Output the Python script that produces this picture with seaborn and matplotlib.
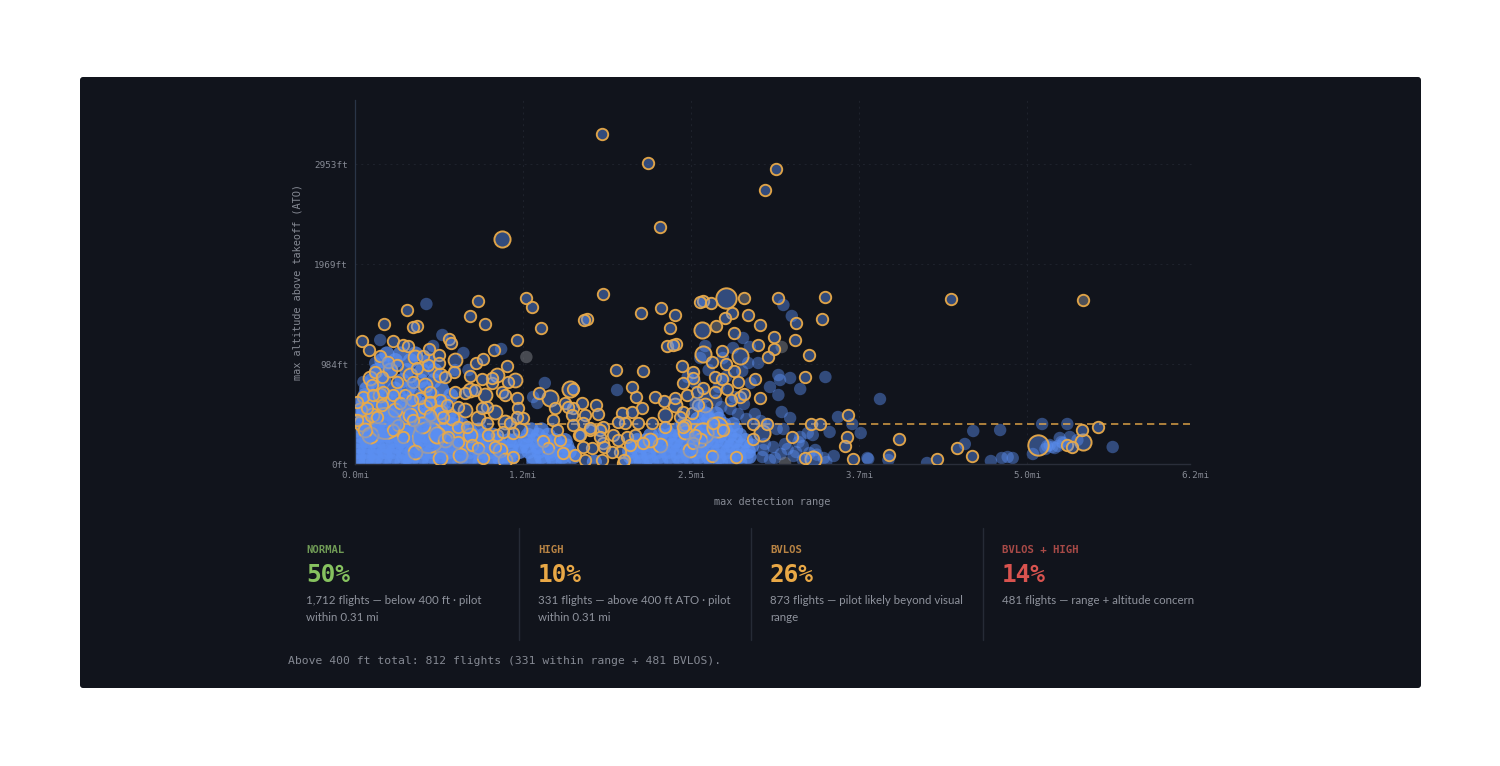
import matplotlib
matplotlib.use("Agg")
import matplotlib.pyplot as plt
import matplotlib.patches as mpatches
from matplotlib.lines import Line2D
from matplotlib.transforms import IdentityTransform
import seaborn as sns

# Values: detection range in km, altitude in metres (axis labels show mi / ft)
RING_S_KM = [2.94,3.49,5.01,4.88,3.63,2.95,2.04,1.46,0.62,2.11,1.37,1.55,0.35,0.74,0.69,2.21,2.76,2.73,3.40,3.64,
 3.81,3.75,3.71,3.82,3.79,4.14,4.24,4.11,4.49,4.40,4.68,4.82,4.51,5.04,5.60,5.56,5.25,4.99,5.24,4.80,
 4.99,4.92,4.37,4.25,4.42,4.51,3.89,4.02,4.02,5.40,5.36,4.76,4.82,4.58,4.63,4.56,4.29,4.37,3.90,4.14,
 4.29,4.43,4.48,3.95,4.07,3.81,3.57,3.68,3.43,3.11,3.30,3.35,2.60,2.70,2.87,2.89,2.74,2.71,2.60,3.18,
 3.42,3.30,3.90,4.01,4.08,3.87,3.93,3.69,3.54,3.37,3.21,3.13,2.95,2.92,2.67,2.80,3.07,3.13,3.24,3.33,
 3.43,3.15,2.82,2.95,2.92,2.62,2.74,2.94,3.19,4.05,3.90,4.02,4.38,4.26,4.25,4.54,4.74,4.74,4.90,5.43,
 5.54,5.87,5.86,5.83,5.20,5.36,5.93,7.10,8.85,8.65,8.48,8.54,6.48,6.36,6.93,7.17,7.35,2.19,2.50,2.54,
 2.38,2.58,2.36,2.60,2.80,2.68,2.24,2.30,2.44,2.40,2.48,2.71,2.96,3.06,3.20,3.27,
 0.08,0.17,0.45,0.57,0.63,0.30,0.39,0.50,0.81,0.88,1.00,1.00,0.87,0.74,1.12,1.14,1.18,1.07,1.37,1.44,
 1.52,1.65,1.93,1.81,1.82,1.63,1.63,1.51,0.24,0.32,0.50,0.69,0.20,0.33,0.10,0.02,0.21,0.45,0.60,0.89,
 0.77,1.01,1.19,1.31,1.43,1.75,1.79,1.93,1.94,1.57,1.51,1.23,1.10,0.89,0.68,0.54,0.32,0.14,0.69,0.51,
 0.57,1.23,1.33,1.57,1.85,2.00,1.88,1.93,1.69,1.58,1.76,1.23,1.39,1.67,1.88,1.52,1.46,1.11,1.05,0.89,
 0.26,0.02,0.45]
RING_S_M = [990,903,885,822,711,510,498,489,462,471,444,420,420,414,411,408,435,432,453,468,
 447,408,354,360,357,489,483,486,453,438,447,417,393,498,501,435,423,381,372,357,
 345,321,339,306,300,279,294,276,258,327,261,255,198,201,210,246,261,255,243,228,
 216,225,192,207,216,198,201,189,279,282,231,201,225,183,177,150,147,123,168,153,
 168,156,156,153,177,141,117,111,123,123,123,126,111,102,87,102,87,72,81,87,
 63,36,48,63,81,27,12,12,3,87,111,63,102,123,24,21,75,120,120,120,
 120,147,81,54,81,18,15,495,111,102,57,51,75,27,15,48,24,213,183,171,
 168,147,132,117,108,87,69,48,72,102,33,51,51,36,12,57,
 369,342,369,357,354,324,306,297,324,345,327,303,297,288,375,363,276,261,264,303,
 315,342,372,294,246,243,258,255,276,261,246,246,237,216,201,186,207,207,207,216,
 198,192,216,213,222,216,207,198,168,171,168,171,177,186,192,183,177,168,132,117,
 81,111,111,123,123,138,93,141,87,87,96,66,57,51,21,18,48,81,141,147,
 141,132,102]

RING_D_KM = [.12,.20,.48,.65,.83,1.01,1.15,1.31,1.46,1.67,1.79,1.96,1.37,1.07,1.25,1.73,1.79,.71,1.01,.30,.65,.83,.42,.18,.06,1.19,1.37,1.55,1.69,1.90,1.01,.71,
 3.93,4.11,3.63,3.51,3.99,3.69,3.81,4.17]
RING_D_M = [102,147,162,147,171,156,138,162,138,156,126,102,87,72,27,42,12,36,18,207,267,237,282,258,162,312,222,207,267,252,267,321,
 96,72,57,72,42,147,177,177]

RING_M_KM = [1.75,4.13,2.32,2.56,4.58,4.14,4.85,5.45,8.67,0.08,0.18,0.80,0.98]
RING_M_M = [675,402,198,225,324,330,93,15,66,123,87,117,87]
RING_L_KM = [4.42,4.14,4.31,8.13]
RING_L_M = [498,93,111,57]
RING_XL_KM = [0.36,0.87]
RING_XL_M = [123,81]
RING_GREY_KM = [4.30,4.63,8.67]
RING_GREY_M = [414,498,492]

PLAIN_KM = [0.85,0.30,1.04,0.93,1.29,1.74,0.10,0.24,1.35,1.19,2.26,2.12,2.17,3.12,5.10,5.20,4.17,4.50,4.62,4.70,
 4.11,4.68,4.80,4.38,5.04,4.94,5.04,5.06,5.18,5.30,5.60,5.08,5.75,5.92,6.02,5.65,5.18,5.10,5.39,5.30,
 5.33,5.45,5.48,5.61,6.10,4.98,4.86,4.85,5.00,4.94,4.67,6.25,8.18,8.48,7.36,7.68,7.26,9.02,6.11,6.35,
 6.81,7.57,7.70,7.77,7.83,8.07,8.24,8.30,8.39,8.37,8.43,8.51,8.60,8.27,8.33,8.41,8.22,
 4.21,4.42,4.61,4.33,4.52,4.71,4.05,3.96,4.16,4.36,4.56,4.83,5.02,4.90,5.12,5.25,5.28,5.41,5.58,5.70,
 4.12,4.30,4.47,4.63,4.76,4.66,4.88,5.07,5.15,5.22,5.33,5.50]
PLAIN_M = [480,372,387,354,333,345,246,303,282,282,243,201,183,222,477,444,354,348,378,351,
 318,303,303,318,267,231,207,252,258,225,261,156,141,120,93,96,138,105,93,81,
 54,87,42,6,18,51,42,21,18,12,18,195,120,120,99,102,60,51,15,12,
 3,9,18,21,18,30,54,51,78,54,63,81,72,57,48,66,45,
 282,262,279,231,201,243,243,261,201,171,150,129,105,120,60,36,66,33,18,24,
 170,190,165,180,150,135,60,30,45,24,12,28]

PLAIN_GREY_KM = [2.04,5.08,5.12,0.36,1.10,0.05,0.25,0.62]
PLAIN_GREY_M = [321,351,3,33,36,6,6,9]

MASS_ROW_M = [6,22,38,54,70,86,102,118,134,150,168,186,205,225,250,280,310,330]
MASS_ROW_KM = [
 [.03,.13,.22,.34,.44,.56,.66,.78,.89,1.01,1.12,1.25,1.36,1.49,1.60,1.73,1.84,2.13,2.24,2.37,2.48,2.85,3.32,3.41,3.53,3.64,3.77,3.88,4.01,4.12,4.24,4.35,4.47,4.58],
 [.04,.15,.25,.36,.47,.58,.69,.80,.92,1.03,1.14,1.26,1.38,1.50,1.62,1.75,1.87,2.12,2.22,2.35,2.47,2.60,3.28,3.39,3.50,3.62,3.74,3.85,3.97,4.09,4.21,4.33,4.45,4.57,4.69],
 [.03,.12,.24,.35,.46,.57,.68,.79,.91,1.02,1.13,1.24,1.37,1.48,1.61,1.72,1.85,1.96,2.07,2.19,2.31,2.43,2.55,3.27,3.38,3.49,3.61,3.73,3.84,3.96,4.08,4.20,4.32,4.44,4.56,4.68],
 [.05,.16,.27,.38,.49,.60,.71,.82,.93,1.04,1.15,1.27,1.39,1.51,1.63,1.74,1.86,1.98,2.05,2.17,2.29,2.41,2.52,3.31,3.42,3.54,3.66,3.78,3.89,4.02,4.13,4.25,4.37,4.49,4.61,4.72],
 [.02,.14,.23,.33,.45,.55,.67,.77,.90,1.00,1.11,1.23,1.35,1.47,1.59,1.70,1.83,1.90,2.03,2.14,2.26,2.38,2.50,3.36,3.47,3.59,3.70,3.82,3.94,4.06,4.18,4.30,4.42,4.53,4.65],
 [.06,.17,.28,.39,.50,.61,.72,.83,.94,1.06,1.17,1.29,1.41,1.53,1.65,2.06,2.18,2.30,3.52,3.63,3.75,3.87,3.99,4.11,4.23,4.34,4.46,4.58],
 [.03,.13,.24,.35,.46,.57,.68,.79,.90,1.01,1.12,1.24,1.36,1.48,2.10,2.22,3.70,3.82,3.93,4.05,4.17,4.29,4.41,4.53],
 [.05,.16,.27,.38,.49,.60,.71,.82,.93,1.05,1.16,1.27,3.91,4.03,4.15,4.27,4.39,4.50],
 [.04,.14,.25,.36,.47,.58,.70,.81,.92,1.03,1.20,4.08,4.21,4.33],
 [.06,.18,.29,.41,.52,.63,.75,.86,.96,1.12,4.17,4.30],
 [.04,.10,.24,.37,.50,.64,.78,.91,1.02],
 [.08,.15,.30,.44,.60,.74,.88,1.06],
 [.12,.18,.36,.52,.70,.92,1.14],
 [.14,.28,.47,.63,.84,1.03],
 [.20,.34,.56,.78,.94],
 [.26,.42,.62,.80,.95],
 [.32,.48,.66,.88],
 [.38,.54,.72],
]
MASS_TOP_KM = [.22,.41,.62,.83,1.04,1.27,1.49,1.71,2.18,2.33,3.48,3.69,3.91,4.12,4.34,.12,.33,.54,.76,.96,1.18,3.80,4.02,4.25,4.46,.28,.50,.72,.44,.60,.68,4.20,4.06,.38,.90]
MASS_TOP_M = [24,36,18,30,42,22,34,16,48,28,14,36,22,40,18,70,84,62,76,90,58,60,74,66,52,110,122,104,150,176,236,150,180,300,132]

X_TICKS = [0,2,4,6,8,10]
X_LABELS = ["0.0mi","1.2mi","2.5mi","3.7mi","5.0mi","6.2mi"]
Y_TICKS = [0,300,600,900]
Y_LABELS = ["0ft","984ft","1969ft","2953ft"]
LIMIT_M = 120
X_END = 9.94

STAT_LABELS = ["NORMAL","HIGH","BVLOS","BVLOS + HIGH"]
STAT_VALUES = ["50%","10%","26%","14%"]
STAT_COLORS = ["#86c25f","#e9a846","#e9a846","#d9534f"]
STAT_LABEL_COLORS = ["#6f9a55","#b98444","#b98444","#a84a47"]
STAT_LINES = [["1,712 flights — below 400 ft · pilot","within 0.31 mi"],
              ["331 flights — above 400 ft ATO · pilot","within 0.31 mi"],
              ["873 flights — pilot likely beyond visual","range"],
              ["481 flights — range + altitude concern"]]
FOOTER = "Above 400 ft total: 812 flights (331 within range + 481 BVLOS)."

BG = "#11141c"
BLUE = "#5b8ff2"
GREY = "#8b8d92"
ORANGE = "#eaaa48"
MONO = "DejaVu Sans Mono"

sns.set_theme(style="dark")
W, H = 1500, 766
fig = plt.figure(figsize=(W/100, H/100), dpi=100, facecolor="white")
fig.add_artist(mpatches.FancyBboxPatch((80, H-688), 1341, 611, boxstyle="round,pad=0,rounding_size=3",
                                       transform=IdentityTransform(), fc=BG, ec="none", zorder=-5))
ax = fig.add_axes([355/W, 1-464/H, 840/W, 364/H])
ax.set_facecolor("none")

def rgba(c, a):
    return matplotlib.colors.to_rgba(c, a)

def layer(xs, ys, size, face, face_alpha, edge=None, lw=0, z=3):
    n = len(ax.collections)
    sns.scatterplot(x=list(xs), y=list(ys), s=size, color=face, ax=ax, legend=False, linewidth=lw, zorder=z)
    col = ax.collections[n]
    col.set_facecolor(rgba(face, face_alpha))
    col.set_edgecolor(rgba(edge, .95) if edge else "none")
    col.set_linewidth(lw)
    col.set_zorder(z)

mass_x, mass_y = [], []
for m, row in zip(MASS_ROW_M, MASS_ROW_KM):
    mass_x += row
    mass_y += [m]*len(row)

layer(PLAIN_KM, PLAIN_M, 80, BLUE, .45, z=2)
layer(PLAIN_GREY_KM, PLAIN_GREY_M, 80, GREY, .45, z=2)
layer(mass_x, mass_y, 120, BLUE, .72, z=2.2)
layer(RING_XL_KM, RING_XL_M, 500, BLUE, .4, ORANGE, 1.4, z=3)
layer(RING_L_KM, RING_L_M, 215, BLUE, .45, ORANGE, 1.4, z=3)
layer(RING_M_KM, RING_M_M, 135, BLUE, .45, ORANGE, 1.4, z=3)
layer(RING_D_KM, RING_D_M, 100, BLUE, .45, ORANGE, 1.35, z=3)
layer(RING_S_KM, RING_S_M, 68, BLUE, .45, ORANGE, 1.35, z=3.1)
layer(RING_GREY_KM, RING_GREY_M, 68, GREY, .5, ORANGE, 1.35, z=3.1)
layer(MASS_TOP_KM, MASS_TOP_M, 90, BLUE, .55, z=3.5)

ax.set_xlim(0, 10)
ax.set_ylim(0, 1092)
ax.set_xticks(X_TICKS, X_LABELS)
ax.set_yticks(Y_TICKS, Y_LABELS)
ax.tick_params(axis="both", length=0, labelsize=6.7, labelcolor="#868a94", pad=5)
for t in ax.get_xticklabels()+ax.get_yticklabels():
    t.set_family(MONO)
ax.grid(True, color="#1f232d", lw=.7, ls=(0, (2, 4)), zorder=0)
ax.set_axisbelow(True)
for s in ("top","right"):
    ax.spines[s].set_visible(False)
ax.spines["left"].set_color("#2a3547")
ax.spines["left"].set_linewidth(.9)
ax.spines["bottom"].set_color("#2a2e3a")
ax.spines["bottom"].set_linewidth(1)
ax.spines["bottom"].set_bounds(0, X_END)
ax.hlines(LIMIT_M, 0, X_END, color=ORANGE, lw=1.2, ls=(0, (4.4, 2.8)), alpha=.85, zorder=2.5)

ax.set_xlabel("")
ax.set_ylabel("")
def T(px, py, s, **kw):
    kw.setdefault("va", "center")
    fig.text(px/W, 1-py/H, s, **kw)

T(772, 502, "max detection range", family=MONO, fontsize=7.4, color="#868a94", ha="center")
T(298, 282, "max altitude above takeoff (ATO)", family=MONO, fontsize=7.4, color="#868a94", ha="center", rotation=90)

for i, xp in enumerate([306, 538, 770, 1002]):
    T(xp, 550, STAT_LABELS[i], family=MONO, fontsize=7.7, fontweight="bold", color=STAT_LABEL_COLORS[i])
    T(xp, 575, STAT_VALUES[i], family=MONO, fontsize=17.6, fontweight="bold", color=STAT_COLORS[i])
    for j, line in enumerate(STAT_LINES[i]):
        T(xp, 601+16.5*j, line, family="Lato", fontsize=8.25, color="#8f939d")
for xp in [519, 751, 983]:
    fig.add_artist(Line2D([xp/W, xp/W], [1-528/H, 1-640/H], color="#262b36", lw=1))
T(288, 661, FOOTER, family=MONO, fontsize=8.2, color="#858993")

fig.savefig("out.png", dpi=100, facecolor="white")
